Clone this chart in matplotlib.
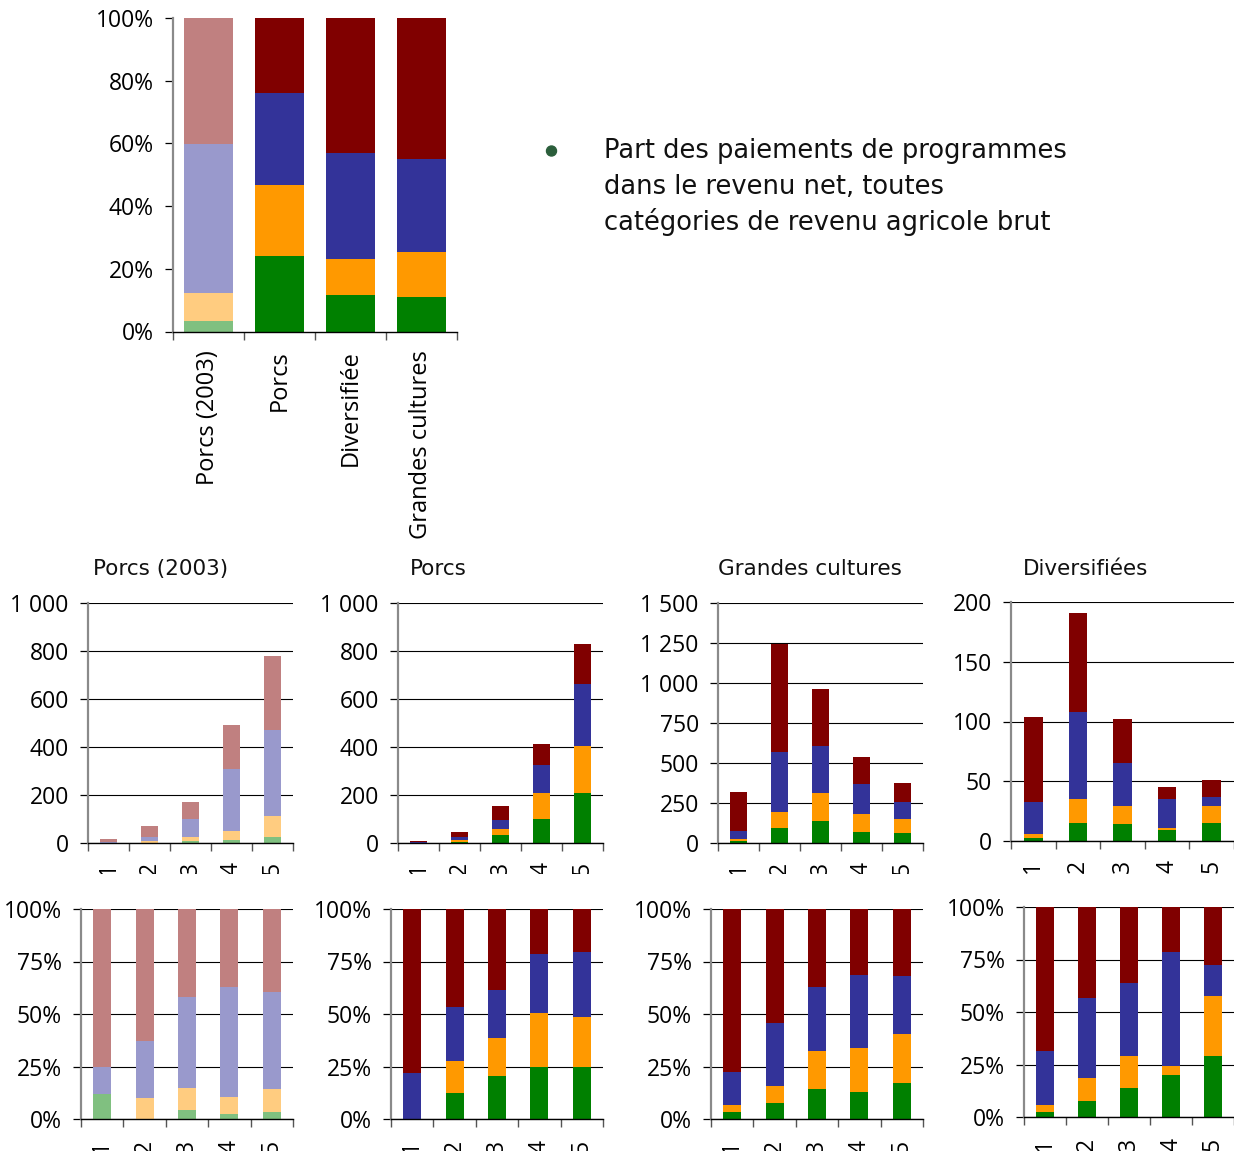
import matplotlib
matplotlib.use("Agg")
import matplotlib.pyplot as plt
import numpy as np
from matplotlib.ticker import FuncFormatter
from matplotlib.transforms import Bbox, TransformedBbox
from matplotlib.patches import Ellipse

# ---------------------------------------------------------------- data
# Overall share of program payments by component (percent)
top_categories = ["Porcs (2003)", "Porcs", "Diversifiée", "Grandes cultures"]
top_green = [3.2, 24.1, 11.7, 11.1]
top_orange = [9.1, 22.6, 11.5, 14.4]
top_blue = [47.5, 29.3, 33.7, 29.5]
top_red = [40.2, 24.0, 43.1, 45.0]

# Payments by gross farm revenue class (1 to 5)
classes = ["1", "2", "3", "4", "5"]

porcs2003_green = [1.8, 0, 7, 12, 26]
porcs2003_orange = [0, 7, 18, 40, 86]
porcs2003_blue = [1.9, 19, 74, 258, 358]
porcs2003_red = [11.3, 44, 71, 182, 310]

porcs_green = [0, 5.9, 32, 102, 207]
porcs_orange = [0, 7, 28, 107, 196]
porcs_blue = [2.2, 12.2, 35, 117, 258]
porcs_red = [7.8, 21.8, 60, 88, 170]

gc_green = [10, 93, 138, 68, 65]
gc_orange = [12, 101, 176, 114, 87]
gc_blue = [50, 376, 294, 186, 103]
gc_red = [247, 674, 357, 169, 120]

div_green = [2.6, 15, 14, 9, 14.8]
div_orange = [3.4, 20.5, 15.5, 2, 14.6]
div_blue = [26.8, 72.5, 35.7, 24.5, 7.4]
div_red = [70.8, 83, 36.8, 9.6, 14.2]

panel_titles = ["Porcs (2003)", "Porcs", "Grandes cultures", "Diversifiées"]

bullet_lines = [
    "Part des paiements de programmes",
    "dans le revenu net, toutes",
    "catégories de revenu agricole brut",
]

# ---------------------------------------------------------------- style
DARK = ["#008000", "#FF9900", "#333399", "#800000"]
PALE = ["#80C080", "#FFCC80", "#9999CC", "#C08080"]
TEXT_FONT = "DejaVu Sans"
plt.rcParams["font.family"] = ["Open Sans", "DejaVu Sans"]

W, H = 1234, 1163
fig = plt.figure(figsize=(W / 100, H / 100), dpi=100)


def px_axes(x0, x1, y0, y1):
    return fig.add_axes([x0 / W, 1 - y1 / H, (x1 - x0) / W, (y1 - y0) / H])


def stacked(ax, layers, colors, width):
    layers = [np.asarray(l, dtype=float) for l in layers]
    x = np.arange(len(layers[0]))
    bottom = np.zeros(len(x))
    for vals, c in zip(layers, colors):
        ax.bar(x, vals, width, bottom=bottom, color=c, linewidth=0, zorder=2)
        bottom += vals


def style(ax, labels, grid, xpad, rot_size=16.5):
    n = len(labels)
    ax.set_xlim(-0.5, n - 0.5)
    for s in ["top", "right"]:
        ax.spines[s].set_visible(False)
    ax.spines["left"].set_color("#8a8a8a")
    ax.spines["left"].set_linewidth(1.6)
    ax.spines["bottom"].set_color("black")
    ax.spines["bottom"].set_linewidth(1.0)
    ax.set_xticks(range(n))
    ax.set_xticklabels(labels, rotation=90, va="top", ha="center",
                       fontsize=rot_size)
    ax.tick_params(axis="x", which="major", length=0, pad=xpad)
    ax.set_xticks(np.arange(-0.5, n), minor=True)
    ax.tick_params(axis="x", which="minor", length=5.8, width=1.0,
                   color="#555555")
    ax.tick_params(axis="y", length=5.8, width=0.9, color="black", pad=8,
                   labelsize=16.5)
    if grid:
        ax.yaxis.grid(True, color="black", linewidth=0.8)
        ax.set_axisbelow(True)


def clip_xlabels(ax, y_px):
    box = TransformedBbox(Bbox([[0, 1 - y_px / H], [1, 1]]), fig.transFigure)
    for t in ax.xaxis.get_major_ticks():
        t.label1.set_clip_box(box)
        t.label1.set_clip_on(True)


def thousands(v, _):
    return f"{int(round(v)):,}".replace(",", " ")


def percent(v, _):
    return f"{int(round(v * 100))}%"


# ---------------------------------------------------------------- top chart
ax = px_axes(173, 457, 18, 331.5)
top_layers = [np.array(l) / 100 for l in (top_green, top_orange, top_blue, top_red)]
xs = np.arange(len(top_categories))
bottom = np.zeros(len(xs))
for vals, dc, pc in zip(top_layers, DARK, PALE):
    cols = [pc] + [dc] * (len(xs) - 1)
    ax.bar(xs, vals, 0.7, bottom=bottom, color=cols, linewidth=0, zorder=2)
    bottom += vals
ax.set_ylim(0, 1)
ax.set_yticks(np.arange(0, 1.01, 0.2))
ax.yaxis.set_major_formatter(FuncFormatter(percent))
style(ax, top_categories, grid=False, xpad=13.5, rot_size=17)

# bullet note
fig.add_artist(Ellipse((551.5 / W, 1 - 151 / H), 10 / W, 10 / H,
                       transform=fig.transFigure, color="#2B5E3B"))
for k, line in enumerate(bullet_lines):
    fig.text(604 / W, 1 - (158 + 36 * k) / H, line, fontfamily=TEXT_FONT,
             fontsize=18.5, va="baseline", ha="left", color="#111111")

# ---------------------------------------------------------------- panels
panels = [
    dict(data=(porcs2003_green, porcs2003_orange, porcs2003_blue, porcs2003_red),
         colors=PALE, abs_box=(88, 293, 603, 843), pct_box=(81, 293, 909, 1119),
         ymax=1000, step=200, title_x=161),
    dict(data=(porcs_green, porcs_orange, porcs_blue, porcs_red),
         colors=DARK, abs_box=(398, 603, 603, 843), pct_box=(391, 603, 909, 1119),
         ymax=1000, step=200, title_x=438),
    dict(data=(gc_green, gc_orange, gc_blue, gc_red),
         colors=DARK, abs_box=(718, 923, 603, 843), pct_box=(711, 923, 909, 1119),
         ymax=1500, step=250, title_x=810),
    dict(data=(div_green, div_orange, div_blue, div_red),
         colors=DARK, abs_box=(1011, 1234, 602, 841), pct_box=(1024, 1234, 907, 1117),
         ymax=200, step=50, title_x=1086),
]

for title, p in zip(panel_titles, panels):
    layers = [np.asarray(l, dtype=float) for l in p["data"]]
    totals = np.sum(layers, axis=0)

    # absolute amounts
    a = px_axes(*p["abs_box"])
    stacked(a, layers, p["colors"], 0.42)
    a.set_ylim(0, p["ymax"])
    a.set_yticks(np.arange(0, p["ymax"] + 1, p["step"]))
    a.yaxis.set_major_formatter(FuncFormatter(thousands))
    style(a, classes, grid=True, xpad=13.5)
    clip_xlabels(a, 874)
    fig.text(p["title_x"] / W, 1 - 575 / H, title, fontfamily=TEXT_FONT,
             fontsize=15.5, ha="center", va="baseline", color="#111111")

    # shares of each class total
    b = px_axes(*p["pct_box"])
    stacked(b, [l / totals for l in layers], p["colors"], 0.42)
    b.set_ylim(0, 1)
    b.set_yticks(np.arange(0, 1.01, 0.25))
    b.yaxis.set_major_formatter(FuncFormatter(percent))
    style(b, classes, grid=True, xpad=15)
    clip_xlabels(b, 1151)

fig.savefig("out.png", dpi=100)
